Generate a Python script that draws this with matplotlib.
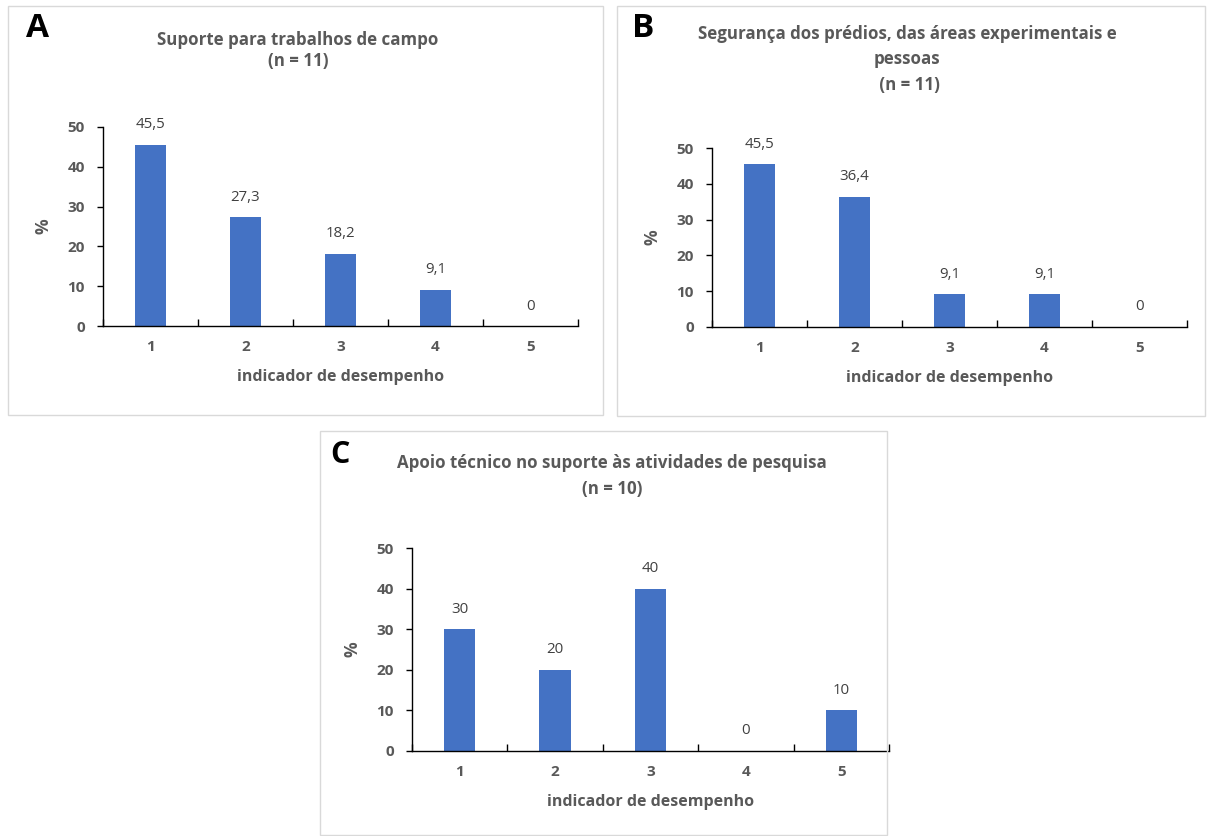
import matplotlib
matplotlib.use("Agg")
import matplotlib.pyplot as plt
from matplotlib.patches import Rectangle

plt.rcParams['font.family'] = ['Open Sans', 'DejaVu Sans']

categories = [1, 2, 3, 4, 5]
tick_labels = ["1", "2", "3", "4", "5"]
values_a = [45.5, 27.3, 18.2, 9.1, 0]
values_b = [45.5, 36.4, 9.1, 9.1, 0]
values_c = [30, 20, 40, 0, 10]
labels_a = ["45,5", "27,3", "18,2", "9,1", "0"]
labels_b = ["45,5", "36,4", "9,1", "9,1", "0"]
labels_c = ["30", "20", "40", "0", "10"]
title_a = "Suporte para trabalhos de campo\n(n = 11)"
title_b = "Segurança dos prédios, das áreas experimentais e\npessoas\n (n = 11)"
title_c = "Apoio técnico no suporte às atividades de pesquisa\n(n = 10)"
xlabel = "indicador de desempenho"
ylabel = "%"
yticks = [0, 10, 20, 30, 40, 50]

W, H = 1208, 836
BAR = "#4472C4"
GRAY = "#595959"
VAL = "#404040"

fig = plt.figure(figsize=(W / 100, H / 100), dpi=100)
fig.patch.set_facecolor("white")


def px_rect(x0, y0, x1, y1):
    return [x0 / W, 1 - y1 / H, (x1 - x0) / W, (y1 - y0) / H]


def box(x0, y0, x1, y1):
    fig.patches.append(Rectangle((x0 / W, 1 - y1 / H), (x1 - x0) / W, (y1 - y0) / H,
                                 transform=fig.transFigure, fill=False,
                                 edgecolor="#d9d9d9", linewidth=1.0))


def panel(rect, vals, labs, letter, letter_xy, letter_size, title, title_xy, lsp):
    ax = fig.add_axes(rect)
    ax.bar(categories, vals, width=0.33, color=BAR, zorder=2)
    ax.set_xlim(0.5, 5.5)
    ax.set_ylim(0, 50)
    for sp in ["top", "right"]:
        ax.spines[sp].set_visible(False)
    for sp in ["left", "bottom"]:
        ax.spines[sp].set_color("#000000")
        ax.spines[sp].set_linewidth(1.0)
    ax.set_yticks(yticks)
    ax.set_yticklabels([str(v) for v in yticks])
    ax.tick_params(axis="y", direction="out", length=4, width=1.0, pad=9,
                   labelsize=11, labelcolor=GRAY)
    ax.set_xticks([0.5, 1.5, 2.5, 3.5, 4.5, 5.5])
    ax.set_xticklabels([])
    ax.tick_params(axis="x", which="major", direction="in", length=5, width=1.0)
    ax.set_xticks(categories, minor=True)
    ax.set_xticklabels(tick_labels, minor=True)
    ax.tick_params(axis="x", which="minor", length=0, pad=10, labelsize=11,
                   labelcolor=GRAY)
    for t in ax.get_xticklabels(minor=True) + ax.get_yticklabels():
        t.set_fontweight("bold")
    ax.set_xlabel(xlabel, fontsize=11.5, color=GRAY, fontweight="bold",
                  labelpad=11)
    ax.set_ylabel(ylabel, fontsize=12.5, color=GRAY, fontweight="bold",
                  labelpad=11)
    for c, v, l in zip(categories, vals, labs):
        ax.annotate(l, (c, v), xytext=(0, 9), textcoords="offset points",
                    ha="center", va="bottom", fontsize=10.8, color=VAL)
    fig.text(letter_xy[0] / W, 1 - letter_xy[1] / H, letter, fontsize=letter_size,
             fontweight="bold", color="black", ha="center", va="center")
    fig.text(title_xy[0] / W, 1 - title_xy[1] / H, title, fontsize=12.2,
             fontweight="bold", color=GRAY, ha="center", va="top",
             linespacing=lsp)
    return ax


box(8, 6, 603, 415)
box(617, 6, 1205, 416)
box(320, 431, 887, 835)

panel(px_rect(103, 127, 578, 326), values_a, labels_a, "A", (37.5, 28.5), 24,
      title_a, (298, 31), 1.22)
panel(px_rect(712, 148, 1187, 327), values_b, labels_b, "B", (643, 28.5), 24,
      title_b, (907, 25), 1.53)
panel(px_rect(412, 548, 889, 751), values_c, labels_c, "C", (340, 455), 22,
      title_c, (612, 454), 1.55)

fig.savefig("out.png", dpi=100, facecolor="white")
